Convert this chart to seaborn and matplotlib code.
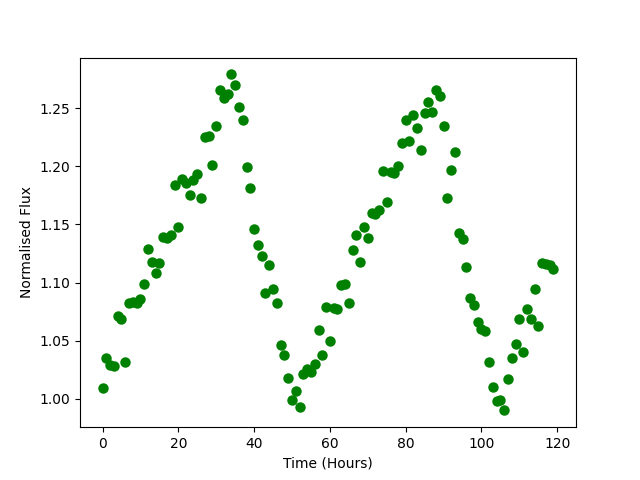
import numpy as np
import pandas as pd
import matplotlib
matplotlib.use('Agg')
import matplotlib.pyplot as plt
import seaborn as sns

# Light curve values (one point per hour)
hours = list(range(120))
flux = [
    1.009, 1.035, 1.029, 1.028, 1.071, 1.069, 1.032, 1.082, 1.083, 1.082,
    1.086, 1.099, 1.129, 1.118, 1.108, 1.117, 1.139, 1.138, 1.141, 1.184,
    1.148, 1.189, 1.186, 1.175, 1.188, 1.193, 1.173, 1.225, 1.226, 1.201,
    1.235, 1.266, 1.259, 1.262, 1.279, 1.270, 1.251, 1.240, 1.199, 1.181,
    1.146, 1.132, 1.123, 1.091, 1.115, 1.094, 1.082, 1.046, 1.038, 1.018,
    0.999, 1.007, 0.993, 1.021, 1.026, 1.023, 1.030, 1.059, 1.038, 1.079,
    1.050, 1.078, 1.077, 1.098, 1.099, 1.082, 1.128, 1.141, 1.118, 1.148,
    1.138, 1.160, 1.159, 1.162, 1.196, 1.169, 1.195, 1.194, 1.200, 1.220,
    1.240, 1.222, 1.244, 1.233, 1.214, 1.246, 1.255, 1.247, 1.266, 1.260,
    1.235, 1.173, 1.197, 1.212, 1.143, 1.137, 1.113, 1.087, 1.081, 1.066,
    1.060, 1.058, 1.032, 1.010, 0.998, 0.999, 0.990, 1.017, 1.035, 1.047,
    1.069, 1.040, 1.077, 1.069, 1.094, 1.063, 1.117, 1.116, 1.115, 1.112,
]

df = pd.DataFrame({'time': hours, 'flux': flux})

fig, ax = plt.subplots(figsize=(6.4, 4.8), dpi=100)
sns.scatterplot(x='time', y='flux', data=df, color='green',
                s=36, edgecolor='green', linewidth=1.5, ax=ax)
ax.set_xlabel("Time (Hours)")
ax.set_ylabel("Normalised Flux")
fig.savefig('out.png', dpi=100)
